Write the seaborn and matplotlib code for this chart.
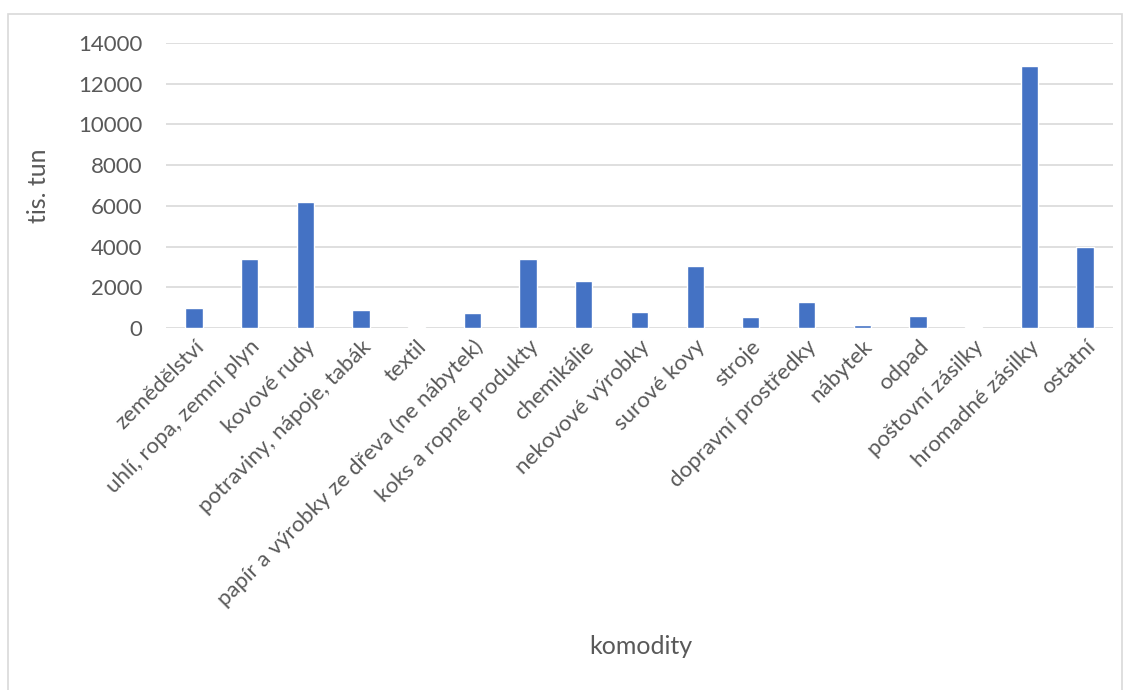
import seaborn as sns
import matplotlib.pyplot as plt
import pandas as pd
from matplotlib.patches import Rectangle

komodity = ['zemědělství', 'uhlí, ropa, zemní plyn', 'kovové rudy',
            'potraviny, nápoje, tabák', 'textil',
            'papír a výrobky ze dřeva (ne nábytek)', 'koks a ropné produkty',
            'chemikálie', 'nekovové výrobky', 'surové kovy', 'stroje',
            'dopravní prostředky', 'nábytek', 'odpad', 'poštovní zásilky',
            'hromadné zásilky', 'ostatní']
hodnoty = [990, 3370, 6180, 890, 35, 760, 3380, 2320, 810, 3070, 530,
           1270, 130, 580, 30, 12880, 3980]
yticks = [0, 2000, 4000, 6000, 8000, 10000, 12000, 14000]

df = pd.DataFrame({'komodity': komodity, 'hodnoty': hodnoty})

sns.set_style('white')
plt.rcParams['font.family'] = ['Lato', 'DejaVu Sans']

fig = plt.figure(figsize=(11.31, 6.9), dpi=100)
ax = fig.add_axes([0.1468, 0.5246, 0.8372, 0.4131])

sns.barplot(data=df, x='komodity', y='hodnoty', color='#4472C4',
            width=0.31, saturation=1, ax=ax, zorder=3)

ax.set_ylim(0, 14000)
ax.set_xlim(-0.5, len(komodity) - 0.5)
ax.set_yticks(yticks)
ax.yaxis.grid(True, color='#D9D9D9', linewidth=1.2, zorder=0)
ax.set_axisbelow(True)
for s in ax.spines.values():
    s.set_visible(False)
ax.tick_params(axis='both', length=0, colors='#595959', labelsize=16)
ax.tick_params(axis='y', pad=17)
ax.set_xticks(range(len(komodity)))
ax.set_xticklabels(komodity, rotation=45, ha='right', rotation_mode='anchor')
ax.tick_params(axis='x', pad=6)

ax.set_ylabel('tis. tun', color='#595959', fontsize=18)
ax.yaxis.set_label_coords(-0.123, 0.5)
fig.text(0.5665, 0.052, 'komodity', color='#595959', fontsize=18, ha='center')
ax.set_xlabel('')

# rámeček kolem grafu
fig.patches.append(Rectangle((0.007, -0.01), 0.985, 0.99, transform=fig.transFigure,
                             fill=False, edgecolor='#D9D9D9', linewidth=1.2))

fig.savefig('out.png', dpi=100)
